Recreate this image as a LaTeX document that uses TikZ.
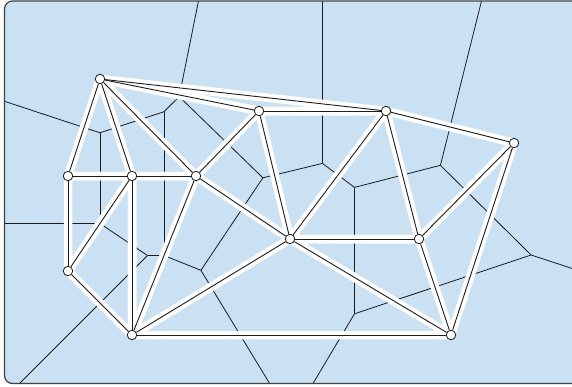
\documentclass[tikz,border=0pt]{standalone}
\usetikzlibrary{calc}
\definecolor{paper}{RGB}{201,225,242}
\definecolor{rim}{RGB}{62,66,70}
\definecolor{ink}{RGB}{28,28,28}
\tikzset{
  site/.style={circle, draw=ink, fill=white, inner sep=0pt,
    minimum size=9.5pt, line width=0.8pt},
  edge/.style={draw=ink, line width=0.9pt},
  halo/.style={draw=white, line width=8.5pt, line join=round},
  cell/.style={draw=ink, line width=0.8pt},
  frame/.style={rim, line width=1.2pt, rounded corners=8pt}
}
\pgfdeclarelayer{cells}
\pgfdeclarelayer{halos}
\pgfsetlayers{cells,halos,main}

\begin{document}
\begin{tikzpicture}[x=1pt,y=-1pt]
  \useasboundingbox (0,0) rectangle (572,386);

  % Sites
  \node[site] (A) at (100,79) {};
  \node[site] (B) at (68,176) {};
  \node[site] (C) at (132,176) {};
  \node[site] (D) at (196,176) {};
  \node[site] (E) at (259,111) {};
  \node[site] (F) at (386,111) {};
  \node[site] (G) at (514,143) {};
  \node[site] (H) at (290,239) {};
  \node[site] (I) at (419,239) {};
  \node[site] (J) at (68,271) {};
  \node[site] (K) at (132,335) {};
  \node[site] (L) at (451,335) {};

  % Circumcentres of the triangles
  \coordinate (abc) at (100,132.8);
  \coordinate (acd) at (164,111.7);
  \coordinate (ade) at (179.2,96.65);
  \coordinate (aef) at (322.5,-615);
  \coordinate (efh) at (322.5,163.4);
  \coordinate (deh) at (262.9,177.8);
  \coordinate (dhk) at (200.9,270.3);
  \coordinate (cdk) at (164,255.5);
  \coordinate (bcj) at (100,223.5);
  \coordinate (cjk) at (147.5,255.5);
  \coordinate (fhi) at (354.5,187.4);
  \coordinate (fgi) at (440.4,165.3);
  \coordinate (gil) at (531.1,255);
  \coordinate (hil) at (354.5,313.8);
  \coordinate (hkl) at (291.5,419.5);
  % far ends of the open cells
  \coordinate (rab) at ($(abc)+(-194,-64)$);
  \coordinate (rfg) at ($(fgi)+(50,-200)$);
  \coordinate (rgl) at ($(gil)+(192,63)$);
  \coordinate (rbj) at ($(bcj)+(-200,0)$);
  \coordinate (rjk) at ($(cjk)+(-200,200)$);

  % Voronoi cells
  \begin{pgfonlayer}{cells}
    \fill[paper, rounded corners=8pt] (4.5,1) rectangle (590,383.5);
    \begin{scope}
      \clip[rounded corners=8pt] (4.5,1) rectangle (590,383.5);
      \foreach \u/\v in {abc/acd, acd/ade, ade/aef, abc/bcj, acd/cdk,
          ade/deh, aef/efh, efh/deh, efh/fhi, fhi/fgi, fgi/gil, fhi/hil,
          gil/hil, hil/hkl, hkl/dhk, deh/dhk, dhk/cdk, cdk/cjk, bcj/cjk,
          abc/rab, fgi/rfg, gil/rgl, bcj/rbj, cjk/rjk}
        \draw[cell] (\u) -- (\v);
    \end{scope}
    \draw[frame] (4.5,1) rectangle (590,383.5);
  \end{pgfonlayer}

  % Delaunay triangles
  \begin{pgfonlayer}{halos}
    \foreach \a/\b/\c in {A/B/C, A/C/D, A/D/E, A/E/F, D/E/H, E/F/H, F/H/I,
        F/I/G, G/I/L, H/I/L, H/K/L, D/H/K, C/D/K, B/C/J, C/J/K}
      \draw[halo] (\a.center) -- (\b.center) -- (\c.center) -- cycle;
  \end{pgfonlayer}
  \foreach \a/\b in {A/B, A/C, A/D, A/E, A/F, B/C, C/D, D/E, E/F, E/H,
      F/H, F/I, F/G, G/I, G/L, H/I, I/L, H/L, H/K, D/H, D/K, C/K, B/J,
      J/C, J/K, K/L}
    \draw[edge] (\a) -- (\b);
\end{tikzpicture}
\end{document}
